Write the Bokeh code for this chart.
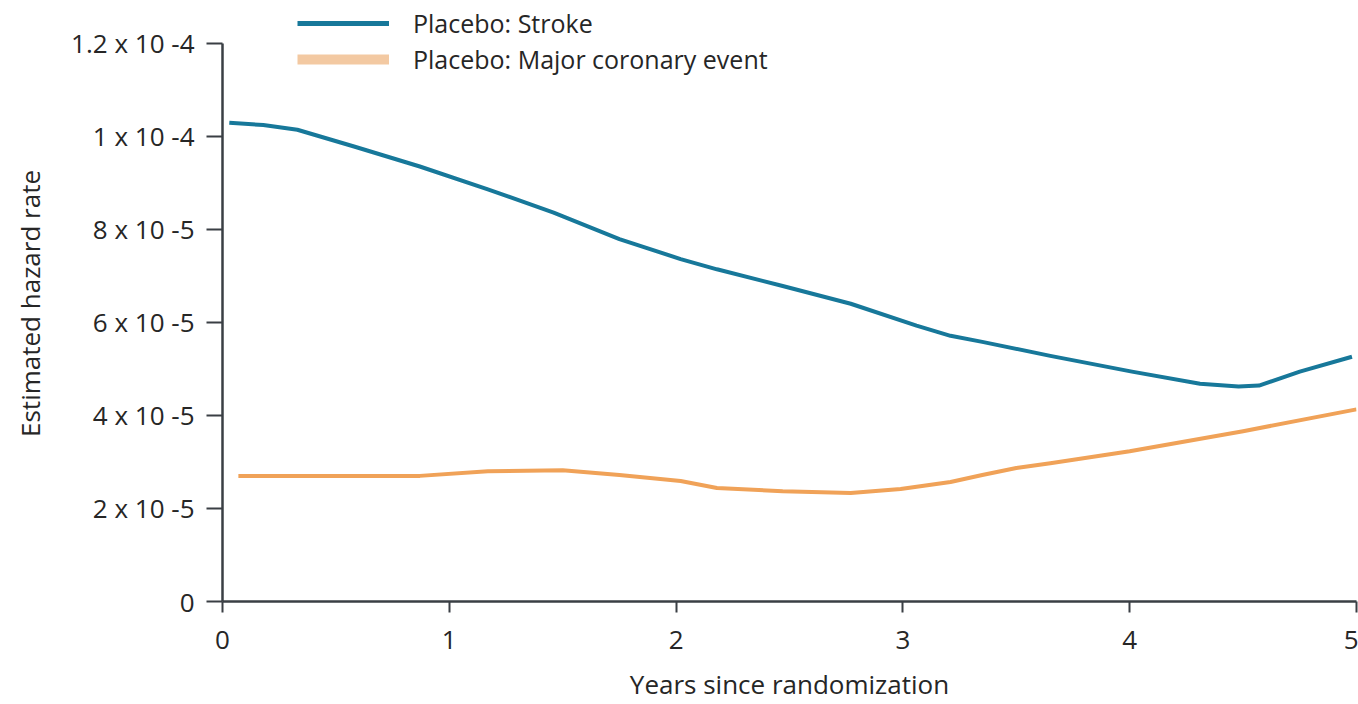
from bokeh.plotting import figure
from bokeh.models import ColumnDataSource, Range1d, FixedTicker, Legend, LegendItem
from bokeh.embed import file_html
from bokeh.resources import INLINE

# Data (hazard rate in units of 1e-5)
stroke_years = [0.03, 0.18, 0.33, 0.58, 0.87, 1.17, 1.46, 1.75, 2.02, 2.18, 2.47, 2.77,
                3.06, 3.21, 3.35, 3.65, 4.01, 4.31, 4.48, 4.57, 4.75, 4.98]
stroke_rate = [10.29, 10.24, 10.14, 9.78, 9.35, 8.86, 8.36, 7.79, 7.36, 7.14, 6.78, 6.40,
               5.93, 5.71, 5.58, 5.28, 4.94, 4.68, 4.62, 4.64, 4.94, 5.26]
coronary_years = [0.07, 0.5, 0.87, 1.17, 1.5, 1.75, 2.02, 2.18, 2.47, 2.77, 2.99,
                  3.21, 3.35, 3.50, 3.65, 4.0, 4.5, 5.0]
coronary_rate = [2.70, 2.70, 2.70, 2.80, 2.82, 2.72, 2.59, 2.44, 2.37, 2.33, 2.42,
                 2.57, 2.72, 2.87, 2.97, 3.23, 3.66, 4.13]

y_ticks = [0, 2e-5, 4e-5, 6e-5, 8e-5, 1e-4, 1.2e-4]
y_tick_labels = ["0", "2 x 10 -5", "4 x 10 -5", "6 x 10 -5", "8 x 10 -5", "1 x 10 -4", "1.2 x 10 -4"]
x_ticks = [0, 1, 2, 3, 4, 5]
series_names = ["Placebo: Stroke", "Placebo: Major coronary event"]

FONT = "Open Sans"
TEXT = "#262626"
AXIS = "#3a3f44"
TEAL = "#17789a"
ORANGE = "#f0a258"
ORANGE_LEGEND = "#f3c9a2"

p = figure(width=1358, height=704, output_backend="svg", toolbar_location=None,
           x_range=Range1d(0, 5), y_range=Range1d(0, 1.281e-4),
           min_border_left=222, min_border_right=2, min_border_top=5, min_border_bottom=100)
p.outline_line_color = None
p.xgrid.visible = False
p.ygrid.visible = False
p.background_fill_color = "white"
p.border_fill_color = "white"

src_s = ColumnDataSource(dict(x=stroke_years, y=[v * 1e-5 for v in stroke_rate]))
src_c = ColumnDataSource(dict(x=coronary_years, y=[v * 1e-5 for v in coronary_rate]))
p.line("x", "y", source=src_s, line_color=TEAL, line_width=4, line_join="round")
p.line("x", "y", source=src_c, line_color=ORANGE, line_width=4, line_join="round")

# legend-only renderers (data outside the visible range)
leg_s = p.line(x=[-10, -9], y=[-1, -1], line_color=TEAL, line_width=5)
leg_c = p.line(x=[-10, -9], y=[-1, -1], line_color=ORANGE_LEGEND, line_width=10)

legend = Legend(items=[LegendItem(label=series_names[0], renderers=[leg_s]),
                       LegendItem(label=series_names[1], renderers=[leg_c])],
                location=(75, 525), padding=0, margin=0, spacing=2,
                glyph_width=92, glyph_height=32, label_height=32,
                label_standoff=24, label_text_font=FONT, label_text_font_size="25px",
                label_text_color=TEXT, border_line_alpha=0, background_fill_alpha=0)
p.add_layout(legend, "center")

xa = p.xaxis[0]
xa.ticker = FixedTicker(ticks=x_ticks)
xa.axis_label = "Years since randomization"
ya = p.yaxis[0]
ya.ticker = FixedTicker(ticks=y_ticks)
ya.major_label_overrides = {t: l for t, l in zip(y_ticks, y_tick_labels)}
ya.axis_label = "Estimated hazard rate"
ya.bounds = (0, 1.2e-4)

for ax in (xa, ya):
    ax.axis_line_color = AXIS
    ax.axis_line_width = 2.5
    ax.major_tick_line_color = AXIS
    ax.major_tick_line_width = 2
    ax.major_tick_in = 0
    ax.minor_tick_line_color = None
    ax.major_label_text_font = FONT
    ax.major_label_text_font_size = "26px"
    ax.major_label_text_color = TEXT
    ax.axis_label_text_font = FONT
    ax.axis_label_text_font_size = "26px"
    ax.axis_label_text_font_style = "normal"
    ax.axis_label_text_color = TEXT

xa.major_tick_out = 11
xa.major_label_standoff = 18
xa.axis_label_standoff = 14
ya.major_tick_out = 16
ya.major_label_standoff = 12
ya.axis_label_standoff = 20

open("out.html", "w").write(file_html(p, INLINE))
